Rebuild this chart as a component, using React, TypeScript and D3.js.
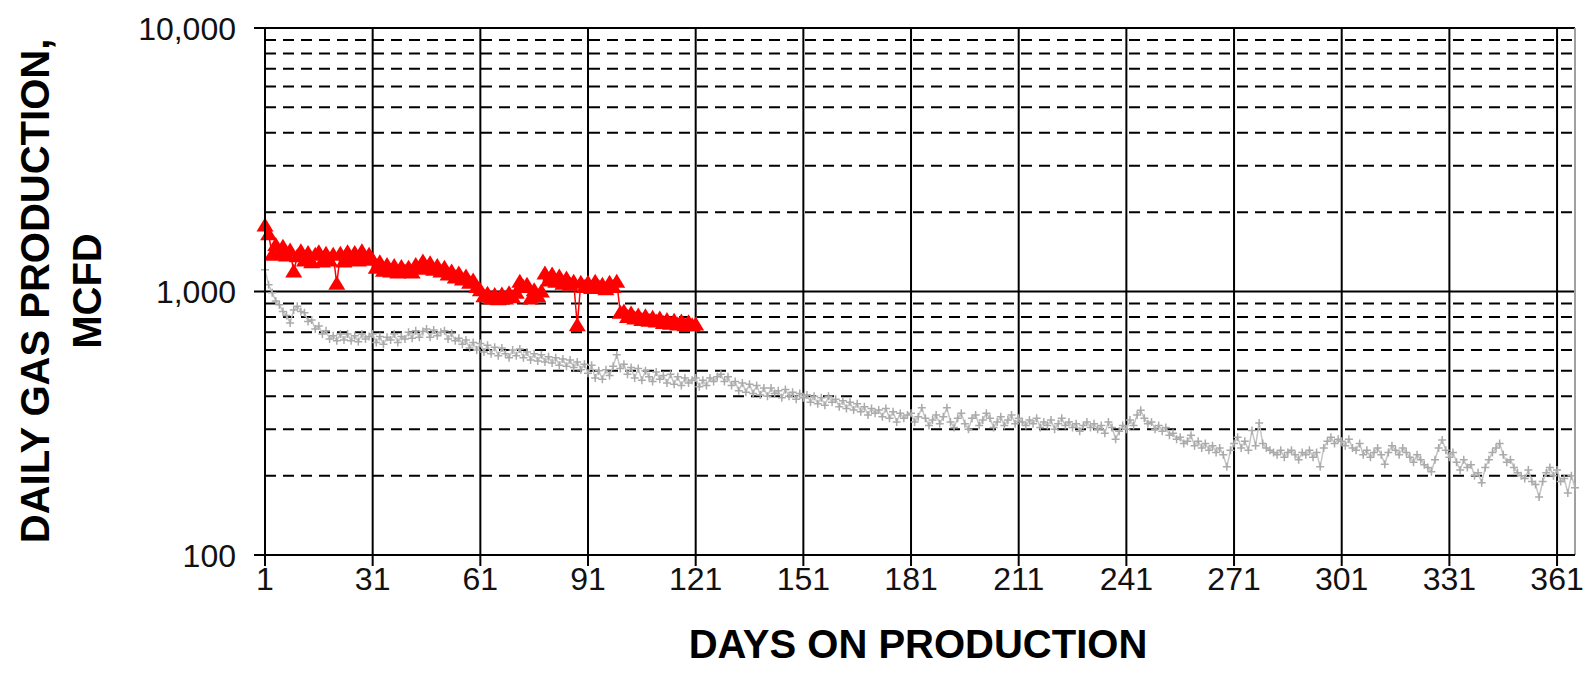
import * as d3 from 'd3';

// Daily gas production, MCFD (gray = offset well, red = new well)
const grayValues = [
  1210, 1060, 990, 920, 890, 840, 810, 760, 850, 880,
  840, 830, 770, 780, 720, 740, 690, 710, 660, 680,
  650, 690, 655, 690, 650, 680, 645, 690, 660, 675,
  690, 640, 675, 630, 670, 655, 690, 640, 675, 660,
  700, 665, 710, 670, 705, 720, 670, 715, 680, 700,
  710, 660, 695, 650, 665, 630, 655, 610, 640, 600,
  635, 590, 625, 580, 615, 570, 610, 580, 560, 600,
  570, 605, 560, 590, 550, 580, 545, 575, 540, 565,
  535, 560, 525, 555, 520, 550, 515, 540, 505, 530,
  490, 525, 470, 500, 465, 505, 480, 520, 575, 510,
  530, 485, 515, 470, 510, 460, 500, 475, 455, 495,
  465, 480, 450, 485, 445, 475, 440, 470, 450, 460,
  470, 435, 460, 440, 470, 455, 475, 485, 455, 475,
  440, 455, 420, 450, 415, 445, 410, 440, 405, 430,
  400, 430, 410, 420, 395, 425, 400, 415, 390, 410,
  395, 405, 380, 400, 375, 395, 370, 400, 380, 390,
  365, 385, 360, 380, 355, 375, 350, 365, 340, 360,
  345, 355, 335, 360, 330, 350, 320, 345, 330, 340,
  345, 320, 335, 362, 330, 310, 325, 340, 315, 335,
  362, 320, 305, 330, 345, 315, 300, 330, 340, 310,
  325, 345, 330, 305, 320, 335, 310, 325, 340, 315,
  330, 320, 310, 325, 315, 330, 305, 320, 310, 325,
  300, 315, 330, 310, 320, 305, 315, 295, 310, 320,
  305, 315, 300, 310, 290, 320, 305, 275, 295, 310,
  300, 325, 310, 340, 354, 330, 315, 320, 300, 310,
  295, 305, 285, 290, 275, 280, 265, 270, 285, 260,
  270, 255, 265, 250, 260, 245, 255, 240, 216, 250,
  265, 280, 255, 270, 250, 297, 260, 317, 265, 255,
  250, 245, 240, 250, 235, 245, 250, 240, 230, 245,
  240, 250, 235, 245, 216, 255, 270, 280, 265, 275,
  270, 260, 275, 255, 250, 265, 240, 250, 235, 245,
  255, 240, 221, 245, 260, 250, 240, 255, 245, 235,
  225, 240, 230, 220, 215, 207, 230, 255, 273, 250,
  235, 245, 225, 210, 230, 215, 220, 200, 205, 188,
  215, 230, 245, 255, 265, 240, 225, 230, 215, 205,
  200, 195, 210, 190, 185, 166, 190, 205, 215, 200,
  210, 190, 195, 172, 200, 180,
];

const redValues = [
  1780, 1650, 1380, 1500, 1400, 1480, 1370, 1430, 1190, 1360,
  1420, 1310, 1400, 1290, 1380, 1410, 1300, 1390, 1310, 1380,
  1070, 1390, 1300, 1410, 1320, 1400, 1310, 1420, 1330, 1380,
  1320, 1230, 1290, 1200, 1260, 1190, 1250, 1180, 1240, 1190,
  1230, 1180, 1260, 1220, 1300, 1230, 1280, 1210, 1250, 1190,
  1230, 1160, 1190, 1130, 1170, 1110, 1140, 1080, 1100, 1040,
  1010, 960, 980, 940, 970, 935, 975, 940, 985, 950,
  990, 1090, 1040, 1060, 940, 1010, 960, 1000, 1170, 1100,
  1160, 1090, 1140, 1070, 1120, 1060, 1090, 745, 1080, 1040,
  1080, 1030, 1090, 1040, 1060, 1020, 1080, 1040, 1090, 830,
  840, 800, 825, 790, 810, 780, 805, 775, 795, 770,
  790, 760, 780, 755, 775, 750, 770, 745, 765, 745, 750,
];

const xTicks = [1, 31, 61, 91, 121, 151, 181, 211, 241, 271, 301, 331, 361];
const yMajor = [100, 1000, 10000];
const yMinor = [200, 300, 400, 500, 600, 700, 800, 900, 2000, 3000, 4000, 5000, 6000, 7000, 8000, 9000];

const WIDTH = 1593;
const HEIGHT = 692;
const plot = { left: 265, right: 1575, top: 28, bottom: 555 };

export default function App() {
  const x = d3.scaleLinear().domain([1, 366]).range([plot.left, plot.right]);
  const y = d3.scaleLog().domain([100, 10000]).range([plot.bottom, plot.top]);

  const gray = grayValues.map((v, i) => [i + 1, v] as [number, number]);
  const red = redValues.map((v, i) => [i + 1, v] as [number, number]);

  const line = d3.line<[number, number]>().x(d => x(d[0])).y(d => y(d[1]));
  // marker roughly 17 wide x 14 tall, like the spreadsheet triangle
  const tri = 'M0,-8L8.5,6L-8.5,6Z';
  const fmt = d3.format(',');

  const crosses = gray
    .map(d => `M${x(d[0]) - 4},${y(d[1])}h8M${x(d[0])},${y(d[1]) - 4}v8`)
    .join('');

  const font = '"Liberation Sans", Arial, sans-serif';

  return (
    <svg width={WIDTH} height={HEIGHT} style={{ position: 'absolute', left: 0, top: 0, background: '#fff' }}>
      <rect x={plot.left} y={plot.top} width={plot.right - plot.left} height={plot.bottom - plot.top} fill="#fff" />

      {/* minor dashed gridlines */}
      {yMinor.map(v => (
        <line key={v} x1={plot.left} x2={plot.right} y1={y(v)} y2={y(v)}
          stroke="#000" strokeWidth={2} strokeDasharray="11,7" />
      ))}
      {/* major gridlines */}
      {yMajor.map(v => (
        <line key={v} x1={plot.left - 11} x2={plot.right} y1={y(v)} y2={y(v)} stroke="#000" strokeWidth={2} />
      ))}
      {xTicks.map(t => (
        <line key={t} x1={x(t)} x2={x(t)} y1={plot.top} y2={plot.bottom + 11} stroke="#000" strokeWidth={2} />
      ))}
      <line x1={plot.right} x2={plot.right} y1={plot.top} y2={plot.bottom} stroke="#a0a0a0" strokeWidth={2} />

      {/* gray series */}
      <path d={line(gray) as string} fill="none" stroke="#c4c4c4" strokeWidth={1.5} />
      <path d={crosses} fill="none" stroke="#aaaaaa" strokeWidth={1.5} />

      {/* red series */}
      <path d={line(red) as string} fill="none" stroke="#ff0000" strokeWidth={1.5} />
      {red.map(d => (
        <path key={d[0]} d={tri} transform={`translate(${x(d[0])},${y(d[1])})`} fill="#ff0000" />
      ))}

      {/* axes */}
      <line x1={plot.left} x2={plot.left} y1={plot.top} y2={plot.bottom + 11} stroke="#000" strokeWidth={2} />
      <line x1={plot.left} x2={plot.right} y1={plot.bottom} y2={plot.bottom} stroke="#000" strokeWidth={2} />

      {yMajor.map(v => (
        <text key={v} x={236} y={y(v)} dy="0.36em" textAnchor="end" fontFamily={font} fontSize={32} fill="#111">
          {fmt(v)}
        </text>
      ))}
      {xTicks.map(t => (
        <text key={t} x={x(t)} y={590} textAnchor="middle" fontFamily={font} fontSize={32} fill="#111">
          {t}
        </text>
      ))}

      <text x={918} y={658} textAnchor="middle" fontFamily={font} fontSize={40} fontWeight="bold" fill="#000">
        DAYS ON PRODUCTION
      </text>
      <text transform={`translate(49,291) rotate(-90)`} textAnchor="middle" fontFamily={font} fontSize={40} fontWeight="bold" fill="#000">
        DAILY GAS PRODUCTION,
      </text>
      <text transform={`translate(101,291) rotate(-90)`} textAnchor="middle" fontFamily={font} fontSize={40} fontWeight="bold" fill="#000">
        MCFD
      </text>
    </svg>
  );
}
